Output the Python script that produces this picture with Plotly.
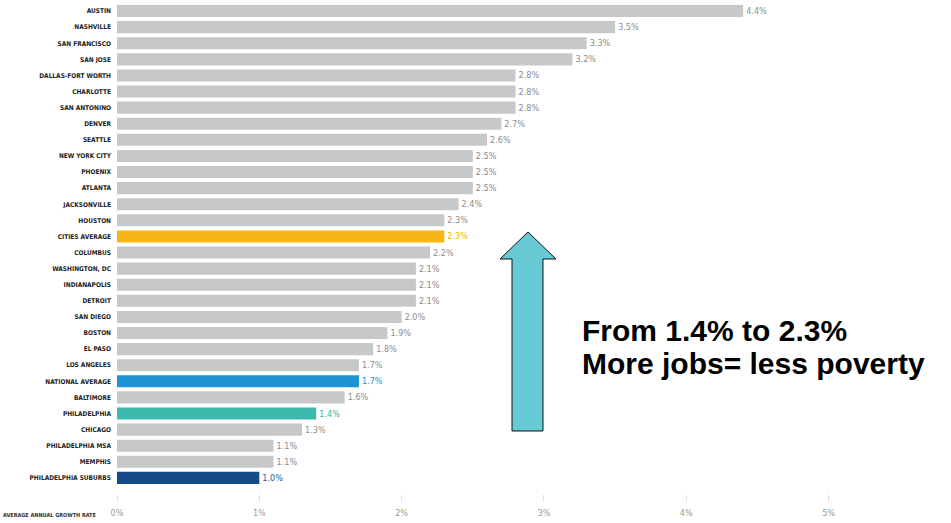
import plotly.graph_objects as go

cities = ["AUSTIN", "NASHVILLE", "SAN FRANCISCO", "SAN JOSE", "DALLAS-FORT WORTH",
          "CHARLOTTE", "SAN ANTONINO", "DENVER", "SEATTLE", "NEW YORK CITY",
          "PHOENIX", "ATLANTA", "JACKSONVILLE", "HOUSTON", "CITIES AVERAGE",
          "COLUMBUS", "WASHINGTON, DC", "INDIANAPOLIS", "DETROIT", "SAN DIEGO",
          "BOSTON", "EL PASO", "LOS ANGELES", "NATIONAL AVERAGE", "BALTIMORE",
          "PHILADELPHIA", "CHICAGO", "PHILADELPHIA MSA", "MEMPHIS", "PHILADELPHIA SUBURBS"]
growth = [4.4, 3.5, 3.3, 3.2, 2.8, 2.8, 2.8, 2.7, 2.6, 2.5,
          2.5, 2.5, 2.4, 2.3, 2.3, 2.2, 2.1, 2.1, 2.1, 2.0,
          1.9, 1.8, 1.7, 1.7, 1.6, 1.4, 1.3, 1.1, 1.1, 1.0]
x_ticks = [0, 1, 2, 3, 4, 5]
x_tick_labels = ["0%", "1%", "2%", "3%", "4%", "5%"]

GREY = "#c7c8ca"
highlight_bar = {"CITIES AVERAGE": "#f6b716", "NATIONAL AVERAGE": "#1e94d4",
                 "PHILADELPHIA": "#3cb9ad", "PHILADELPHIA SUBURBS": "#164a88"}
highlight_txt = {"CITIES AVERAGE": "#f5b400", "NATIONAL AVERAGE": "#1b8fd0",
                 "PHILADELPHIA": "#3ab5a9", "PHILADELPHIA SUBURBS": "#2b5c9c"}
bar_colors = [highlight_bar.get(c, GREY) for c in cities]
txt_colors = [highlight_txt.get(c, "#8c8c8c") for c in cities]

COND = "DejaVu Sans Condensed"
W, H = 951, 523
L, PW = 117, 797
T, PH = 3, 491

fig = go.Figure(go.Bar(
    x=growth, y=cities, orientation="h",
    marker=dict(color=bar_colors, line=dict(width=0)),
    text=[f"{v:.1f}%" for v in growth], textposition="outside",
    outsidetextfont=dict(family=COND, size=9, color=txt_colors),
    cliponaxis=False, hoverinfo="skip",
))


def px2paper(x, y):
    return (x - L) / PW, (T + PH - y) / PH


pts = [(528, 232), (556, 259), (543, 259), (543, 431), (512, 431), (512, 259), (500, 259)]
path = "M " + " L ".join(f"{px2paper(a, b)[0]:.5f},{px2paper(a, b)[1]:.5f}" for a, b in pts) + " Z"
fig.add_shape(type="path", path=path, xref="paper", yref="paper",
              fillcolor="#66c9d3", line=dict(color="#111111", width=1))

for line_text, cy in [("From 1.4% to 2.3%", 330), ("More jobs= less poverty", 363)]:
    tx, ty = px2paper(580, cy)
    fig.add_annotation(x=tx, y=ty, xref="paper", yref="paper", xanchor="left", yanchor="middle",
                       align="left", showarrow=False, text=f"<b>{line_text}</b>",
                       font=dict(family="Liberation Sans", size=30, color="#000000"))

fig.add_annotation(x=0, y=0, xref="paper", yref="paper", xanchor="right", yanchor="top",
                   xshift=-19, yshift=-16, showarrow=False,
                   text="<b>AVERAGE ANNUAL GROWTH RATE</b>",
                   font=dict(family=COND, size=5.5, color="#333333"))

fig.update_layout(
    width=W, height=H,
    margin=dict(l=L, r=W - L - PW, t=T, b=H - T - PH),
    paper_bgcolor="white", plot_bgcolor="white",
    showlegend=False, bargap=0.25,
    xaxis=dict(range=[0, 5.6], tickvals=x_ticks, ticktext=x_tick_labels,
               showgrid=True, gridcolor="white", gridwidth=2, zeroline=False,
               layer="above traces", showline=False,
               ticks="outside", ticklen=6, tickcolor="#dddddd", tickwidth=1,
               ticklabelstandoff=4,
               tickfont=dict(family=COND, size=9, color="#9a9a9a")),
    yaxis=dict(categoryorder="array", categoryarray=cities, range=[30.0, -0.5],
               showgrid=False, zeroline=False, ticks="", ticklabelstandoff=5,
               tickfont=dict(family=COND, size=6.5, color="#222222", weight="bold")),
)

fig.write_html("out.html", config={"displayModeBar": False},
               post_script="document.body.style.margin='0';")
